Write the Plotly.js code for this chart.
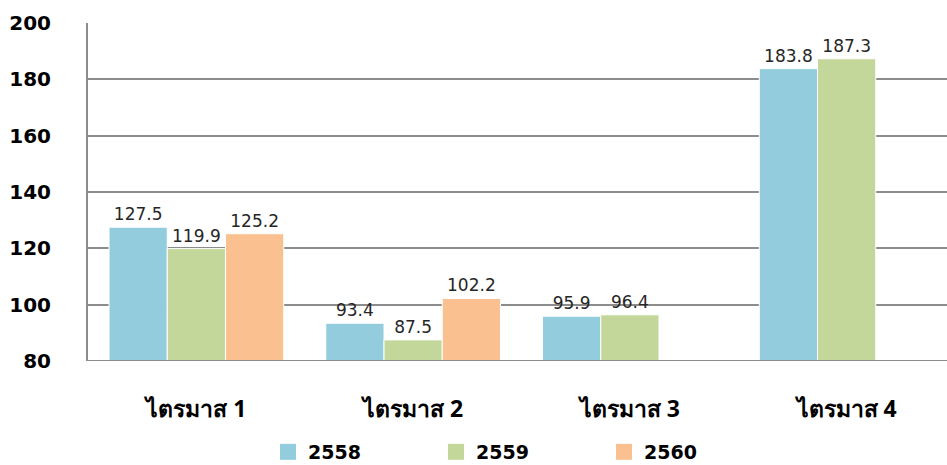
<!DOCTYPE html>
<html>
<head>
<meta charset="utf-8">
<script src="https://cdn.plot.ly/plotly-3.0.1.min.js"></script>
<style>
html,body{margin:0;padding:0;background:#fff;}
#chart{width:947px;height:465px;}
</style>
</head>
<body>
<div id="chart"></div>
<script>
const categories = ["ไตรมาส 1", "ไตรมาส 2", "ไตรมาส 3", "ไตรมาส 4"];
const seriesNames = ["2558", "2559", "2560"];
const values2558 = [127.5, 93.4, 95.9, 183.8];
const values2559 = [119.9, 87.5, 96.4, 187.3];
const values2560 = [125.2, 102.2, null, null];
const tickValues = [80, 100, 120, 140, 160, 180, 200];
const colors = ["#93CDDD", "#C4D79B", "#FAC090"];

const allValues = [values2558, values2559, values2560];
const barTraces = allValues.map((vals, i) => ({
  type: "bar",
  name: seriesNames[i],
  x: categories,
  y: vals,
  showlegend: false,
  marker: {color: colors[i], line: {color: "#ffffff", width: 1}},
  text: vals.map(v => v == null ? "" : v.toFixed(1)),
  textposition: "outside",
  cliponaxis: false,
  textfont: {family: "Tahoma, 'DejaVu Sans', sans-serif", size: 17, color: "#262626"},
  hoverinfo: "skip"
}));
const legendTraces = seriesNames.map((n, i) => ({
  type: "scatter", mode: "markers", name: n,
  x: [null], y: [null],
  marker: {symbol: "square", size: 20, color: colors[i]},
  showlegend: true, hoverinfo: "skip"
}));

const layout = {
  width: 947, height: 465,
  margin: {l: 88, r: 0, t: 23, b: 104, autoexpand: false},
  paper_bgcolor: "#fff", plot_bgcolor: "#fff",
  barmode: "group",
  bargap: 0.194,
  bargroupgap: 0,
  showlegend: true,
  legend: {
    orientation: "h", xref: "container", yref: "container",
    x: 0.283, xanchor: "left", y: 0.028, yanchor: "middle",
    font: {family: "Tahoma, 'DejaVu Sans', sans-serif", size: 19, color: "#000", weight: "bold"},
    itemwidth: 30, traceorder: "normal",
    entrywidth: 123, itemsizing: "trace"
  },
  xaxis: {
    type: "category",
    range: [-0.5, 3.463],
    showgrid: false,
    showline: false,
    ticks: "",
    automargin: false,
    tickfont: {family: "Tahoma, 'Noto Sans', 'DejaVu Sans', sans-serif", size: 23, color: "#000", weight: "bold"},
    ticklabelstandoff: 32
  },
  yaxis: {
    range: [80, 200],
    tickvals: tickValues,
    ticktext: tickValues.map(String),
    showgrid: true,
    gridcolor: "#8c8c8c",
    gridwidth: 2,
    showline: true,
    linecolor: "#8c8c8c",
    linewidth: 2,
    zeroline: false,
    ticks: "",
    automargin: false,
    ticklabelstandoff: 31,
    tickfont: {family: "Tahoma, 'DejaVu Sans', sans-serif", size: 20, color: "#000", weight: "bold"}
  },
  shapes: [{
    type: "line", xref: "paper", yref: "y", x0: 0, x1: 1, y0: 80, y1: 80,
    line: {color: "#8c8c8c", width: 2}
  }]
};

Plotly.newPlot("chart", barTraces.concat(legendTraces), layout, {displayModeBar: false, staticPlot: true});
</script>
</body>
</html>
